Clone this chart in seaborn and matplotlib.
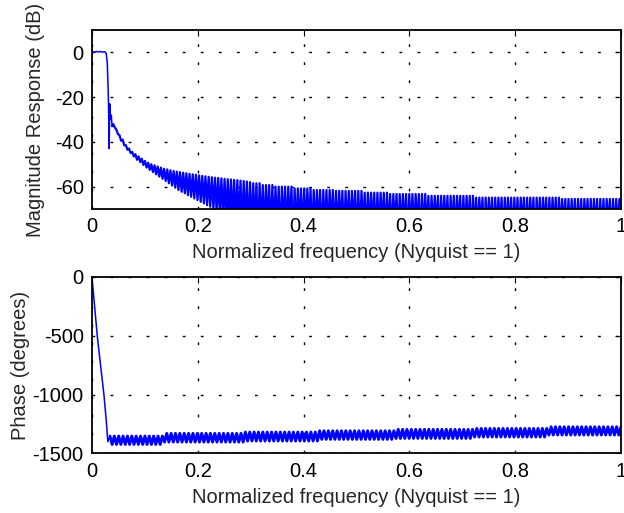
import matplotlib
matplotlib.use("Agg")
import matplotlib.pyplot as plt
import seaborn as sns
import numpy as np

# ---- magnitude response (dB) ----
# passband + transition, read point by point
mag_head_freq = [0, 0.004, 0.008, 0.012, 0.016, 0.020, 0.024, 0.027, 0.029,
                 0.031, 0.0325, 0.0335, 0.035, 0.0365, 0.038]
mag_head = [0.3, 0.1, 0.4, 0.2, 0.4, 0.1, 0.3, -0.5, -5,
            -20, -43, -23, -30, -28, -33]

# stopband ripple (very dense): top of each ripple, 0.04 -> 1.0
mag_peaks = ([-32, -34.5, -37, -39, -41.5, -43, -44.5, -45.5, -46.5, -47.5,
              -48.5, -49.3, -50, -50.5, -51, -51.5, -52, -52.3, -52.7, -53,
              -53.3, -53.5, -53.8, -54, -54.3, -54.5, -54.7, -55, -55.2, -55.4,
              -55.6, -55.8, -56, -56.1, -56.3, -56.5, -56.7, -56.8, -57, -57.1,
              -57.3, -57.5, -57.7, -58]
             + [-58.5] * 3 + [-59.3] * 4 + [-60.0] * 6 + [-60.8] * 6
             + [-61.5] * 7 + [-61.9] * 9 + [-62.7] * 8 + [-63.3] * 12
             + [-64.1] * 15 + [-64.9] * 27 + [-65.5] * 19)
# bottom of each ripple (the deep ones fall below the axis)
mag_nulls = ([-33.5, -36.5, -39.5, -41.5, -43.5, -45, -46.5, -48, -49, -50.3,
              -51.5, -52.5, -53.5, -54.5, -55.5, -56.5, -57.5, -58.5, -59.5, -60.5,
              -61.5, -62.3, -63, -63.8, -64.5, -65.3, -66, -66.8, -67.5, -68.3,
              -69, -70, -71, -72, -73, -74, -75, -76, -77, -78]
             + [-80, -78, -83, -81, -79, -84, -80, -82, -78, -83,
                -81, -79, -85, -80, -82, -78, -84, -81, -79, -83] * 6)

# ---- phase (degrees) ----
ph_head_freq = [0, 0.005, 0.010, 0.016, 0.0226, 0.027, 0.030, 0.034]
ph_head = [0, -250, -500, -740, -1000, -1220, -1400, -1352]

ph_tops = ([-1352] * 13 + [-1329] * 18 + [-1318] * 17 + [-1307] * 18
           + [-1295] * 18 + [-1287] * 17 + [-1273] * 17)
ph_bottoms = ([-1423] * 12 + [-1403] * 19 + [-1394] * 17 + [-1380] * 17
              + [-1372] * 18 + [-1360] * 17 + [-1343] * 17)

mag_yticks = [-60, -40, -20, 0]
ph_yticks = [-1500, -1000, -500, 0]
xticks = [0, 0.2, 0.4, 0.6, 0.8, 1]
xtick_labels = ["0", "0.2", "0.4", "0.6", "0.8", "1"]


def zigzag(tops, bottoms):
    out = []
    for i in range(max(len(tops), len(bottoms))):
        if i < len(tops):
            out.append(tops[i])
        if i < len(bottoms):
            out.append(bottoms[i])
    return out


mag_rip = zigzag(mag_peaks, mag_nulls)
mag_rip_freq = list(np.linspace(0.040, 1.0, len(mag_rip)))

ph_rip = zigzag(ph_tops, ph_bottoms)
ph_rip_freq = list(np.linspace(0.034, 1.0, len(ph_rip)))

sns.set_style("white")
plt.rcParams['font.family'] = ['Liberation Sans', 'DejaVu Sans']
plt.rcParams['axes.unicode_minus'] = False

FS = 14.5
fig = plt.figure(figsize=(6.24, 5.13), dpi=100)
ax1 = fig.add_axes([0.1474, 0.5926, 0.8478, 0.3489])
ax2 = fig.add_axes([0.1474, 0.1160, 0.8478, 0.3441])


def style_axis(ax, yticks, ylabel, ylab_x):
    ax.set_xlim(0, 1)
    ax.set_xticks(xticks)
    ax.set_xticklabels(xtick_labels)
    ax.set_yticks(yticks)
    ax.set_xlabel("Normalized frequency (Nyquist == 1)", fontsize=FS, labelpad=5)
    ax.set_ylabel(ylabel, fontsize=FS)
    ax.yaxis.set_label_coords(ylab_x, 0.5)
    ax.grid(True, color="black", linestyle=(0, (2, 11)), linewidth=1.0)
    ax.set_axisbelow(True)
    ax.tick_params(direction="in", top=True, right=True, length=4, width=0.8,
                   labelsize=FS, pad=6, colors="black")
    for s in ax.spines.values():
        s.set_color("black")
        s.set_linewidth(1.3)


# passband/transition thin, dense stopband ripple drawn a bit heavier
sns.lineplot(x=mag_head_freq, y=mag_head, ax=ax1, color="blue", linewidth=1.1,
             estimator=None, sort=False, legend=False)
sns.lineplot(x=mag_head_freq[-1:] + mag_rip_freq, y=mag_head[-1:] + mag_rip,
             ax=ax1, color="blue", linewidth=1.6,
             estimator=None, sort=False, legend=False)
ax1.set_ylim(-70, 10)
style_axis(ax1, mag_yticks, "Magnitude Response (dB)", -0.089)

sns.lineplot(x=ph_head_freq, y=ph_head, ax=ax2, color="blue", linewidth=1.1,
             estimator=None, sort=False, legend=False)
sns.lineplot(x=ph_rip_freq, y=ph_rip, ax=ax2, color="blue", linewidth=2.1,
             estimator=None, sort=False, legend=False)
ax2.set_ylim(-1500, 0)
style_axis(ax2, ph_yticks, "Phase (degrees)", -0.118)

fig.savefig("out.png", dpi=100)
